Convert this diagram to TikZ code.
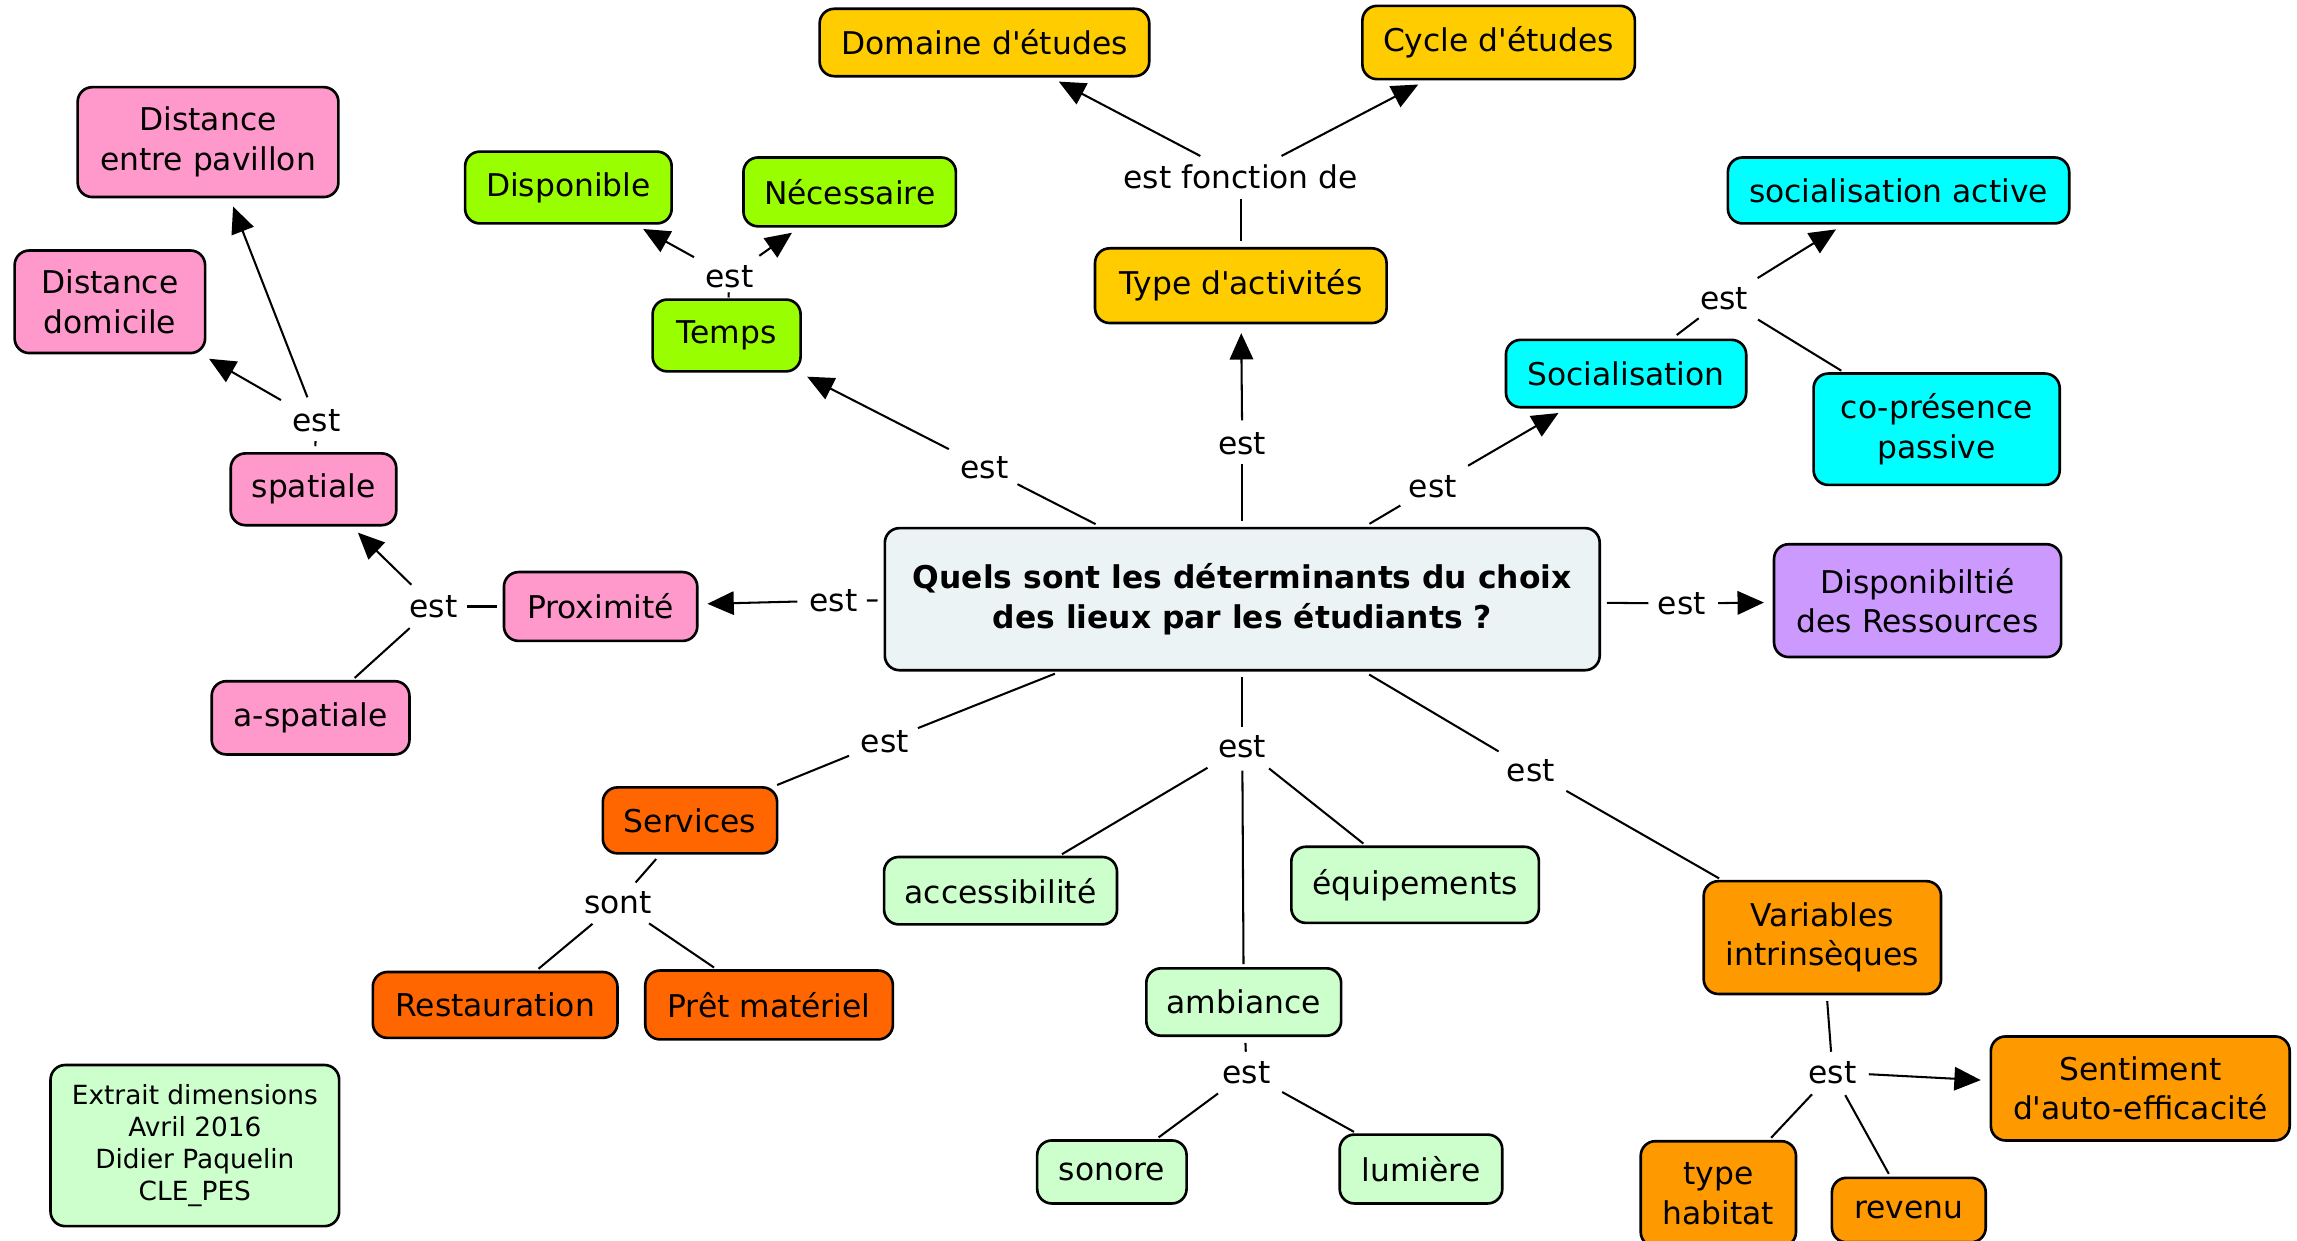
\documentclass[tikz,border=0pt]{standalone}
\usepackage{fontspec}
\setmainfont{DejaVu Sans}
\usetikzlibrary{arrows.meta}
\newcommand{\apos}{\textquotesingle}
\definecolor{cpink}{HTML}{FF99CC}
\definecolor{cgreen}{HTML}{99FF00}
\definecolor{cgold}{HTML}{FFCC00}
\definecolor{ccyan}{HTML}{00FFFF}
\definecolor{ccentral}{HTML}{EBF3F5}
\definecolor{cpurple}{HTML}{CC99FF}
\definecolor{cred}{HTML}{FF6600}
\definecolor{clight}{HTML}{CCFFCC}
\definecolor{corange}{HTML}{FF9900}
\begin{document}
\begin{tikzpicture}[x=0.5pt,y=-0.5pt,
  box/.style={draw=black, line width=0.9pt, rounded corners=5pt, align=center, inner sep=2pt,
    font=\fontsize{10.7}{13.5}\selectfont},
  lab/.style={inner sep=2pt, font=\fontsize{10.7}{13.5}\selectfont},
  link/.style={line width=0.7pt, shorten <=2pt, shorten >=1pt},
  arr/.style={line width=0.7pt, shorten <=2pt, shorten >=3pt, -{Triangle[length=9pt,width=8pt]}}]
\useasboundingbox[fill=white] (0,0) rectangle (1568,847);

% concepts
\node[box, fill=cpink, minimum width=89pt, minimum height=37.5pt] (dep) at (142,97) {Distance\\entre pavillon};
\node[box, fill=cpink, minimum width=65pt, minimum height=35pt] (dom) at (75,206) {Distance\\domicile};
\node[box, fill=cgreen, minimum width=70.5pt, minimum height=24.5pt] (disp) at (388,128) {Disponible};
\node[box, fill=cgreen, minimum width=72.5pt, minimum height=23.5pt] (nec) at (580,131) {Nécessaire};
\node[box, fill=cgreen, minimum width=50.5pt, minimum height=24.5pt] (temps) at (496,229) {Temps};
\node[box, fill=cgold, minimum width=112.5pt, minimum height=23pt] (dometu) at (672,29) {Domaine d\apos études};
\node[box, fill=cgold, minimum width=93pt, minimum height=25pt] (cycle) at (1023,29) {Cycle d\apos études};
\node[box, fill=cgold, minimum width=99.5pt, minimum height=25.5pt] (type) at (847,195) {Type d\apos activités};
\node[box, fill=ccyan, minimum width=116.5pt, minimum height=22.5pt] (socact) at (1296,130) {socialisation active};
\node[box, fill=ccyan, minimum width=82pt, minimum height=23pt] (soc) at (1110,255) {Socialisation};
\node[box, fill=ccyan, minimum width=84pt, minimum height=38pt] (copres) at (1322,293) {co-présence\\passive};
\node[box, fill=cpink, minimum width=56.5pt, minimum height=24.5pt] (spat) at (214,334) {spatiale};
\node[box, fill=cpink, minimum width=66pt, minimum height=23.5pt] (prox) at (410,414) {Proximité};
\node[box, fill=cpink, minimum width=67.5pt, minimum height=25pt] (aspat) at (212,490) {a-spatiale};
\node[box, fill=ccentral, minimum width=244pt, minimum height=48.5pt, font=\fontsize{10.7}{13.5}\selectfont\bfseries] (central) at (848,409) {Quels sont les déterminants du choix\\des lieux par les étudiants ?};
\node[box, fill=cpurple, minimum width=98pt, minimum height=38.5pt] (ress) at (1309,410) {Disponibiltié\\des Ressources};
\node[box, fill=cred, minimum width=59.5pt, minimum height=22.5pt] (serv) at (471,560) {Services};
\node[box, fill=cred, minimum width=83.5pt, minimum height=22.5pt] (resto) at (338,686) {Restauration};
\node[box, fill=cred, minimum width=84.5pt, minimum height=23.5pt] (pret) at (525,686) {Prêt matériel};
\node[box, fill=clight, minimum width=79.5pt, minimum height=23pt] (access) at (683,608) {accessibilité};
\node[box, fill=clight, minimum width=84.5pt, minimum height=26pt] (equip) at (966,604) {équipements};
\node[box, fill=clight, minimum width=66.5pt, minimum height=23pt] (amb) at (849,684) {ambiance};
\node[box, fill=clight, minimum width=51pt, minimum height=21.5pt] (sonore) at (759,800) {sonore};
\node[box, fill=clight, minimum width=55.5pt, minimum height=23.5pt] (lum) at (970,798) {lumière};
\node[box, fill=corange, minimum width=81pt, minimum height=38.5pt] (var) at (1244,640) {Variables\\intrinsèques};
\node[box, fill=corange, minimum width=102pt, minimum height=35.5pt] (sent) at (1461,743) {Sentiment\\d\apos auto-efficacité};
\node[box, fill=corange, minimum width=53pt, minimum height=36pt] (typeh) at (1173,815) {type\\habitat};
\node[box, fill=corange, minimum width=52.5pt, minimum height=22pt] (rev) at (1303,826) {revenu};
\node[box, fill=clight, minimum width=98.5pt, minimum height=55pt, font=\fontsize{9}{11}\selectfont] (extrait) at (133,782) {Extrait dimensions\\Avril 2016\\Didier Paquelin\\CLE\_PES};

% linking phrases
\node[lab] (l1) at (216,287) {est};
\node[lab] (l2) at (498,189) {est};
\node[lab] (l3) at (847,121) {est fonction de};
\node[lab] (l4) at (1177,204) {est};
\node[lab] (l5) at (672,319) {est};
\node[lab] (l6) at (848,303) {est};
\node[lab] (l7) at (978,332) {est};
\node[lab] (l8) at (296,414) {est};
\node[lab] (l9) at (569,410) {est};
\node[lab] (l10) at (1148,412) {est};
\node[lab] (l11) at (604,506) {est};
\node[lab] (l12) at (848,510) {est};
\node[lab] (l13) at (1045,526) {est};
\node[lab] (l14) at (422,616) {sont};
\node[lab] (l15) at (851,732) {est};
\node[lab] (l16) at (1251,732) {est};

% connectors
\draw[link] (spat) -- (l1); \draw[arr] (l1) -- (dep); \draw[arr] (l1) -- (dom);
\draw[link] (temps) -- (l2); \draw[arr] (l2) -- (disp); \draw[arr] (l2) -- (nec);
\draw[link] (type) -- (l3); \draw[arr] (l3) -- (dometu); \draw[arr] (l3) -- (cycle);
\draw[link] (soc) -- (l4); \draw[arr] (l4) -- (socact); \draw[link] (l4) -- (copres);
\draw[link] (central) -- (l5); \draw[arr] (l5) -- (temps);
\draw[link] (central) -- (l6); \draw[arr] (l6) -- (type);
\draw[link] (central) -- (l7); \draw[arr] (l7) -- (soc);
\draw[link] (prox) -- (l8); \draw[arr] (l8) -- (spat); \draw[link] (l8) -- (aspat);
\draw[link] (central) -- (l9); \draw[arr] (l9) -- (prox);
\draw[link] (central) -- (l10); \draw[arr] (l10) -- (ress);
\draw[link] (central) -- (l11); \draw[link] (l11) -- (serv);
\draw[link] (central) -- (l12); \draw[link] (l12) -- (access); \draw[link] (l12) -- (equip); \draw[link] (l12) -- (amb);
\draw[link] (central) -- (l13); \draw[link] (l13) -- (var);
\draw[link] (serv) -- (l14); \draw[link] (l14) -- (resto); \draw[link] (l14) -- (pret);
\draw[link] (amb) -- (l15); \draw[link] (l15) -- (sonore); \draw[link] (l15) -- (lum);
\draw[link] (var) -- (l16); \draw[arr] (l16) -- (sent); \draw[link] (l16) -- (typeh); \draw[link] (l16) -- (rev);
\end{tikzpicture}
\end{document}
